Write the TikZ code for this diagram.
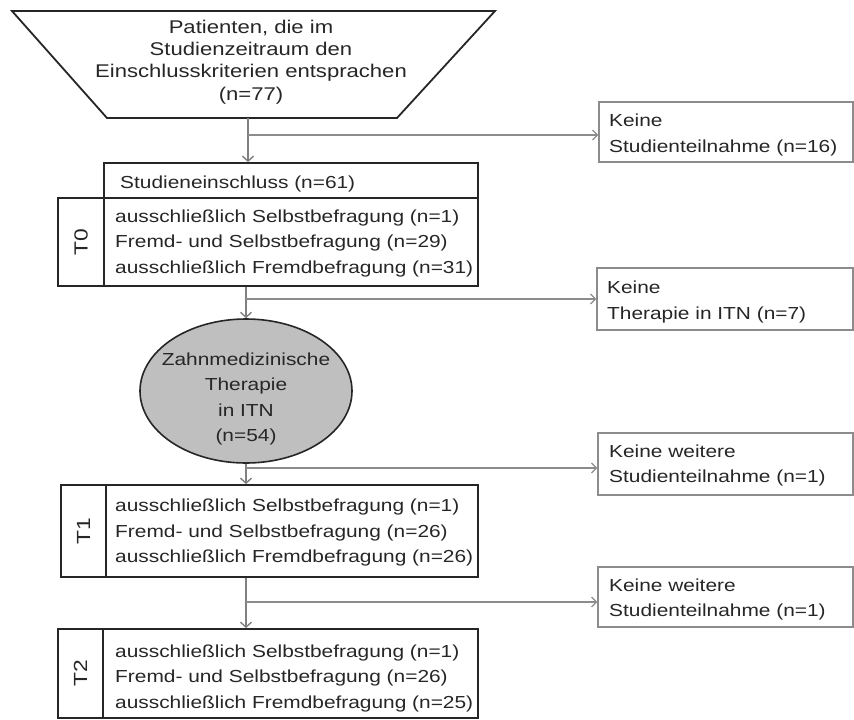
\documentclass[tikz,border=0pt]{standalone}
\usepackage{fontspec}
\setmainfont{Liberation Sans}[FakeStretch=1.2]
\usetikzlibrary{arrows.meta,shapes.geometric}
\begin{document}
\begin{tikzpicture}[x=1pt,y=-1pt,
  txt/.style={font=\fontsize{17.4}{25.5}\selectfont, text=black!85, inner sep=0pt, align=left, anchor=west},
  ctxt/.style={font=\fontsize{17.4}{25.5}\selectfont, text=black!85, inner sep=0pt, align=center},
  tbox/.style={draw=black!85, line width=1.8pt, inner sep=0pt},
  sbox/.style={draw=black!45, line width=1.2pt, inner sep=0pt},
  arr/.style={draw=black!50, line width=1.6pt, -{Straight Barb[length=5pt,width=11pt,line width=1.4pt]}},
  barr/.style={draw=black!45, line width=1.2pt, -{Straight Barb[length=5pt,width=10pt,line width=1.2pt]}}]
\useasboundingbox (0,0) rectangle (854,720);

% top trapezoid
\draw[draw=black!85, line width=1.8pt] (12,11) -- (495,11) -- (397,118) -- (107,118) -- cycle;
\node[ctxt, font=\fontsize{18.4}{22.3}\selectfont] (pat) at (251,62)
  {Patienten, die im\\Studienzeitraum den\\Einschlusskriterien entsprachen\\(n=77)};
\coordinate (patb) at (248,118);

% right side boxes
\node[sbox, minimum width=254pt, minimum height=60pt] (r1) at (726,132) {};
\node[txt] (r1t) at (609,135) {Keine\\Studienteilnahme (n=16)};
\node[sbox, minimum width=256pt, minimum height=62pt] (r2) at (725,299) {};
\node[txt] (r2t) at (607,302) {Keine\\Therapie in ITN (n=7)};
\node[sbox, minimum width=255pt, minimum height=62pt] (r3) at (725.5,464) {};
\node[txt] (r3t) at (609,465.5) {Keine weitere\\Studienteilnahme (n=1)};
\node[sbox, minimum width=255pt, minimum height=60pt] (r4) at (725.5,597) {};
\node[txt] (r4t) at (609,599.5) {Keine weitere\\Studienteilnahme (n=1)};

% T0
\node[tbox, minimum width=374pt, minimum height=35pt] (h0) at (291,180.5) {};
\node[txt] (h0t) at (120,183.5) {Studieneinschluss (n=61)};
\node[tbox, minimum width=420pt, minimum height=88pt] (m0) at (268,242) {};
\node[tbox, ctxt, font=\fontsize{19}{22}\selectfont, rotate=90, minimum width=88pt, minimum height=46pt] (l0) at (81,242) {T0};
\node[txt] (m0t) at (115,243) {ausschließlich Selbstbefragung (n=1)\\Fremd- und Selbstbefragung (n=29)\\ausschließlich Fremdbefragung (n=31)};

% ellipse
\node[ellipse, draw=black!85, line width=1.6pt, fill=black!25, minimum width=212pt, minimum height=144pt, inner sep=0pt] (e) at (246,391) {};
\node[ctxt] (et) at (246,399) {Zahnmedizinische\\Therapie\\in ITN\\(n=54)};

% T1
\node[tbox, minimum width=417pt, minimum height=92pt] (m1) at (269.5,531) {};
\node[tbox, ctxt, font=\fontsize{19}{22}\selectfont, rotate=90, minimum width=92pt, minimum height=45pt] (l1) at (83.5,531) {T1};
\node[txt] (m1t) at (115,532.5) {ausschließlich Selbstbefragung (n=1)\\Fremd- und Selbstbefragung (n=26)\\ausschließlich Fremdbefragung (n=26)};

% T2
\node[tbox, minimum width=420pt, minimum height=89pt] (m2) at (268,673.5) {};
\node[tbox, ctxt, font=\fontsize{19}{22}\selectfont, rotate=90, minimum width=89pt, minimum height=45pt] (l2) at (80.5,673.5) {T2};
\node[txt] (m2t) at (115,678) {ausschließlich Selbstbefragung (n=1)\\Fremd- und Selbstbefragung (n=26)\\ausschließlich Fremdbefragung (n=25)};

% connectors
\draw[arr] (patb) -- (patb |- h0.north);
\coordinate (j1) at (248,135);
\draw[barr] (j1) -- (j1 -| r1.west);

\draw[arr] (e.north |- m0.south) -- (e.north);
\coordinate (j2) at (246,299);
\draw[barr] (j2) -- (j2 -| r2.west);

\draw[arr] (e.south) -- (e.south |- m1.north);
\coordinate (j3) at (246,468);
\draw[barr] (j3) -- (j3 -| r3.west);

\draw[arr] (e.south |- m1.south) -- (e.south |- m2.north);
\coordinate (j4) at (246,602);
\draw[barr] (j4) -- (j4 -| r4.west);
\end{tikzpicture}
\end{document}
